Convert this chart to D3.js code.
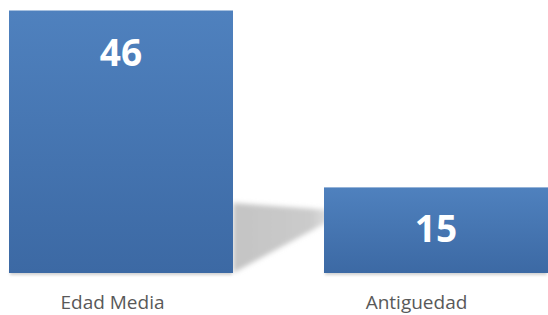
<!DOCTYPE html>
<html><head><meta charset="utf-8">
<script src="https://cdn.jsdelivr.net/npm/d3@7/dist/d3.min.js"></script>
<style>html,body{margin:0;padding:0;background:#fff;overflow:hidden}</style>
</head><body>
<svg id="c" width="548" height="315"></svg>
<script>
const categories = ["Edad Media", "Antiguedad"];
const values = [46, 15];

(function(){
const svg = d3.select("#c");
const base = 273, plotTop = 10;
const xb = d3.scaleBand().domain(categories).range([9, 548]).paddingInner(91/315).paddingOuter(0);
const y = d3.scaleLinear().domain([0, 46]).range([base, plotTop + 0.5]);

const defs = svg.append("defs");
const g = defs.append("linearGradient").attr("id","bg").attr("x1",0).attr("y1",0).attr("x2",0).attr("y2",1);
g.append("stop").attr("offset","0%").attr("stop-color","#4f81be");
g.append("stop").attr("offset","100%").attr("stop-color","#3c69a4");
const sg = defs.append("linearGradient").attr("id","sg").attr("x1",0).attr("y1",0).attr("x2",1).attr("y2",0);
sg.append("stop").attr("offset","0%").attr("stop-color","#c4c4c4");
sg.append("stop").attr("offset","70%").attr("stop-color","#cbcbcb");
sg.append("stop").attr("offset","100%").attr("stop-color","#f2f2f2");
const blur = defs.append("filter").attr("id","bl").attr("x","-20%").attr("y","-20%").attr("width","140%").attr("height","140%");
blur.append("feGaussianBlur").attr("stdDeviation",2.5);
const blur2 = defs.append("filter").attr("id","bl2").attr("x","-10%").attr("y","-50%").attr("width","120%").attr("height","200%");
blur2.append("feGaussianBlur").attr("stdDeviation",1.5);

const bw = xb.bandwidth();
const x1r = xb(categories[0]) + bw;
const x2l = xb(categories[1]);
svg.append("path")
  .attr("d", `M${x1r},${base - 70} L${x2l + 20},${base - 62} L${x2l + 20},${base - 60} L${x1r},${base} Z`)
  .attr("fill","url(#sg)").attr("filter","url(#bl)");

svg.selectAll("rect.sh").data(values).join("rect").attr("class","sh")
  .attr("x",(d,i)=>xb(categories[i])+1).attr("width",bw-2)
  .attr("y",base-3).attr("height",5)
  .attr("fill","#d0d0d0").attr("filter","url(#bl2)");

svg.selectAll("rect.bar").data(values).join("rect").attr("class","bar")
  .attr("x",(d,i)=>xb(categories[i])).attr("width",bw)
  .attr("y",d=>y(d)).attr("height",d=>base-y(d))
  .attr("fill","url(#bg)");

svg.selectAll("text.val").data(values).join("text").attr("class","val")
  .attr("x",(d,i)=>xb(categories[i])+bw/2).attr("y",d=>y(d)+55)
  .attr("text-anchor","middle")
  .attr("font-family","'Open Sans', sans-serif").attr("font-weight","bold")
  .attr("font-size",37).attr("fill","#fff")
  .text(d=>d);

const lx = d3.scalePoint().domain(categories).range([112.5, 416.5]);
svg.selectAll("text.cat").data(categories).join("text").attr("class","cat")
  .attr("x",d=>lx(d)).attr("y",309)
  .attr("text-anchor","middle")
  .attr("font-family","'Open Sans', sans-serif")
  .attr("font-size",19).attr("fill","#595959")
  .text(d=>d);
})();
</script>
</body></html>
